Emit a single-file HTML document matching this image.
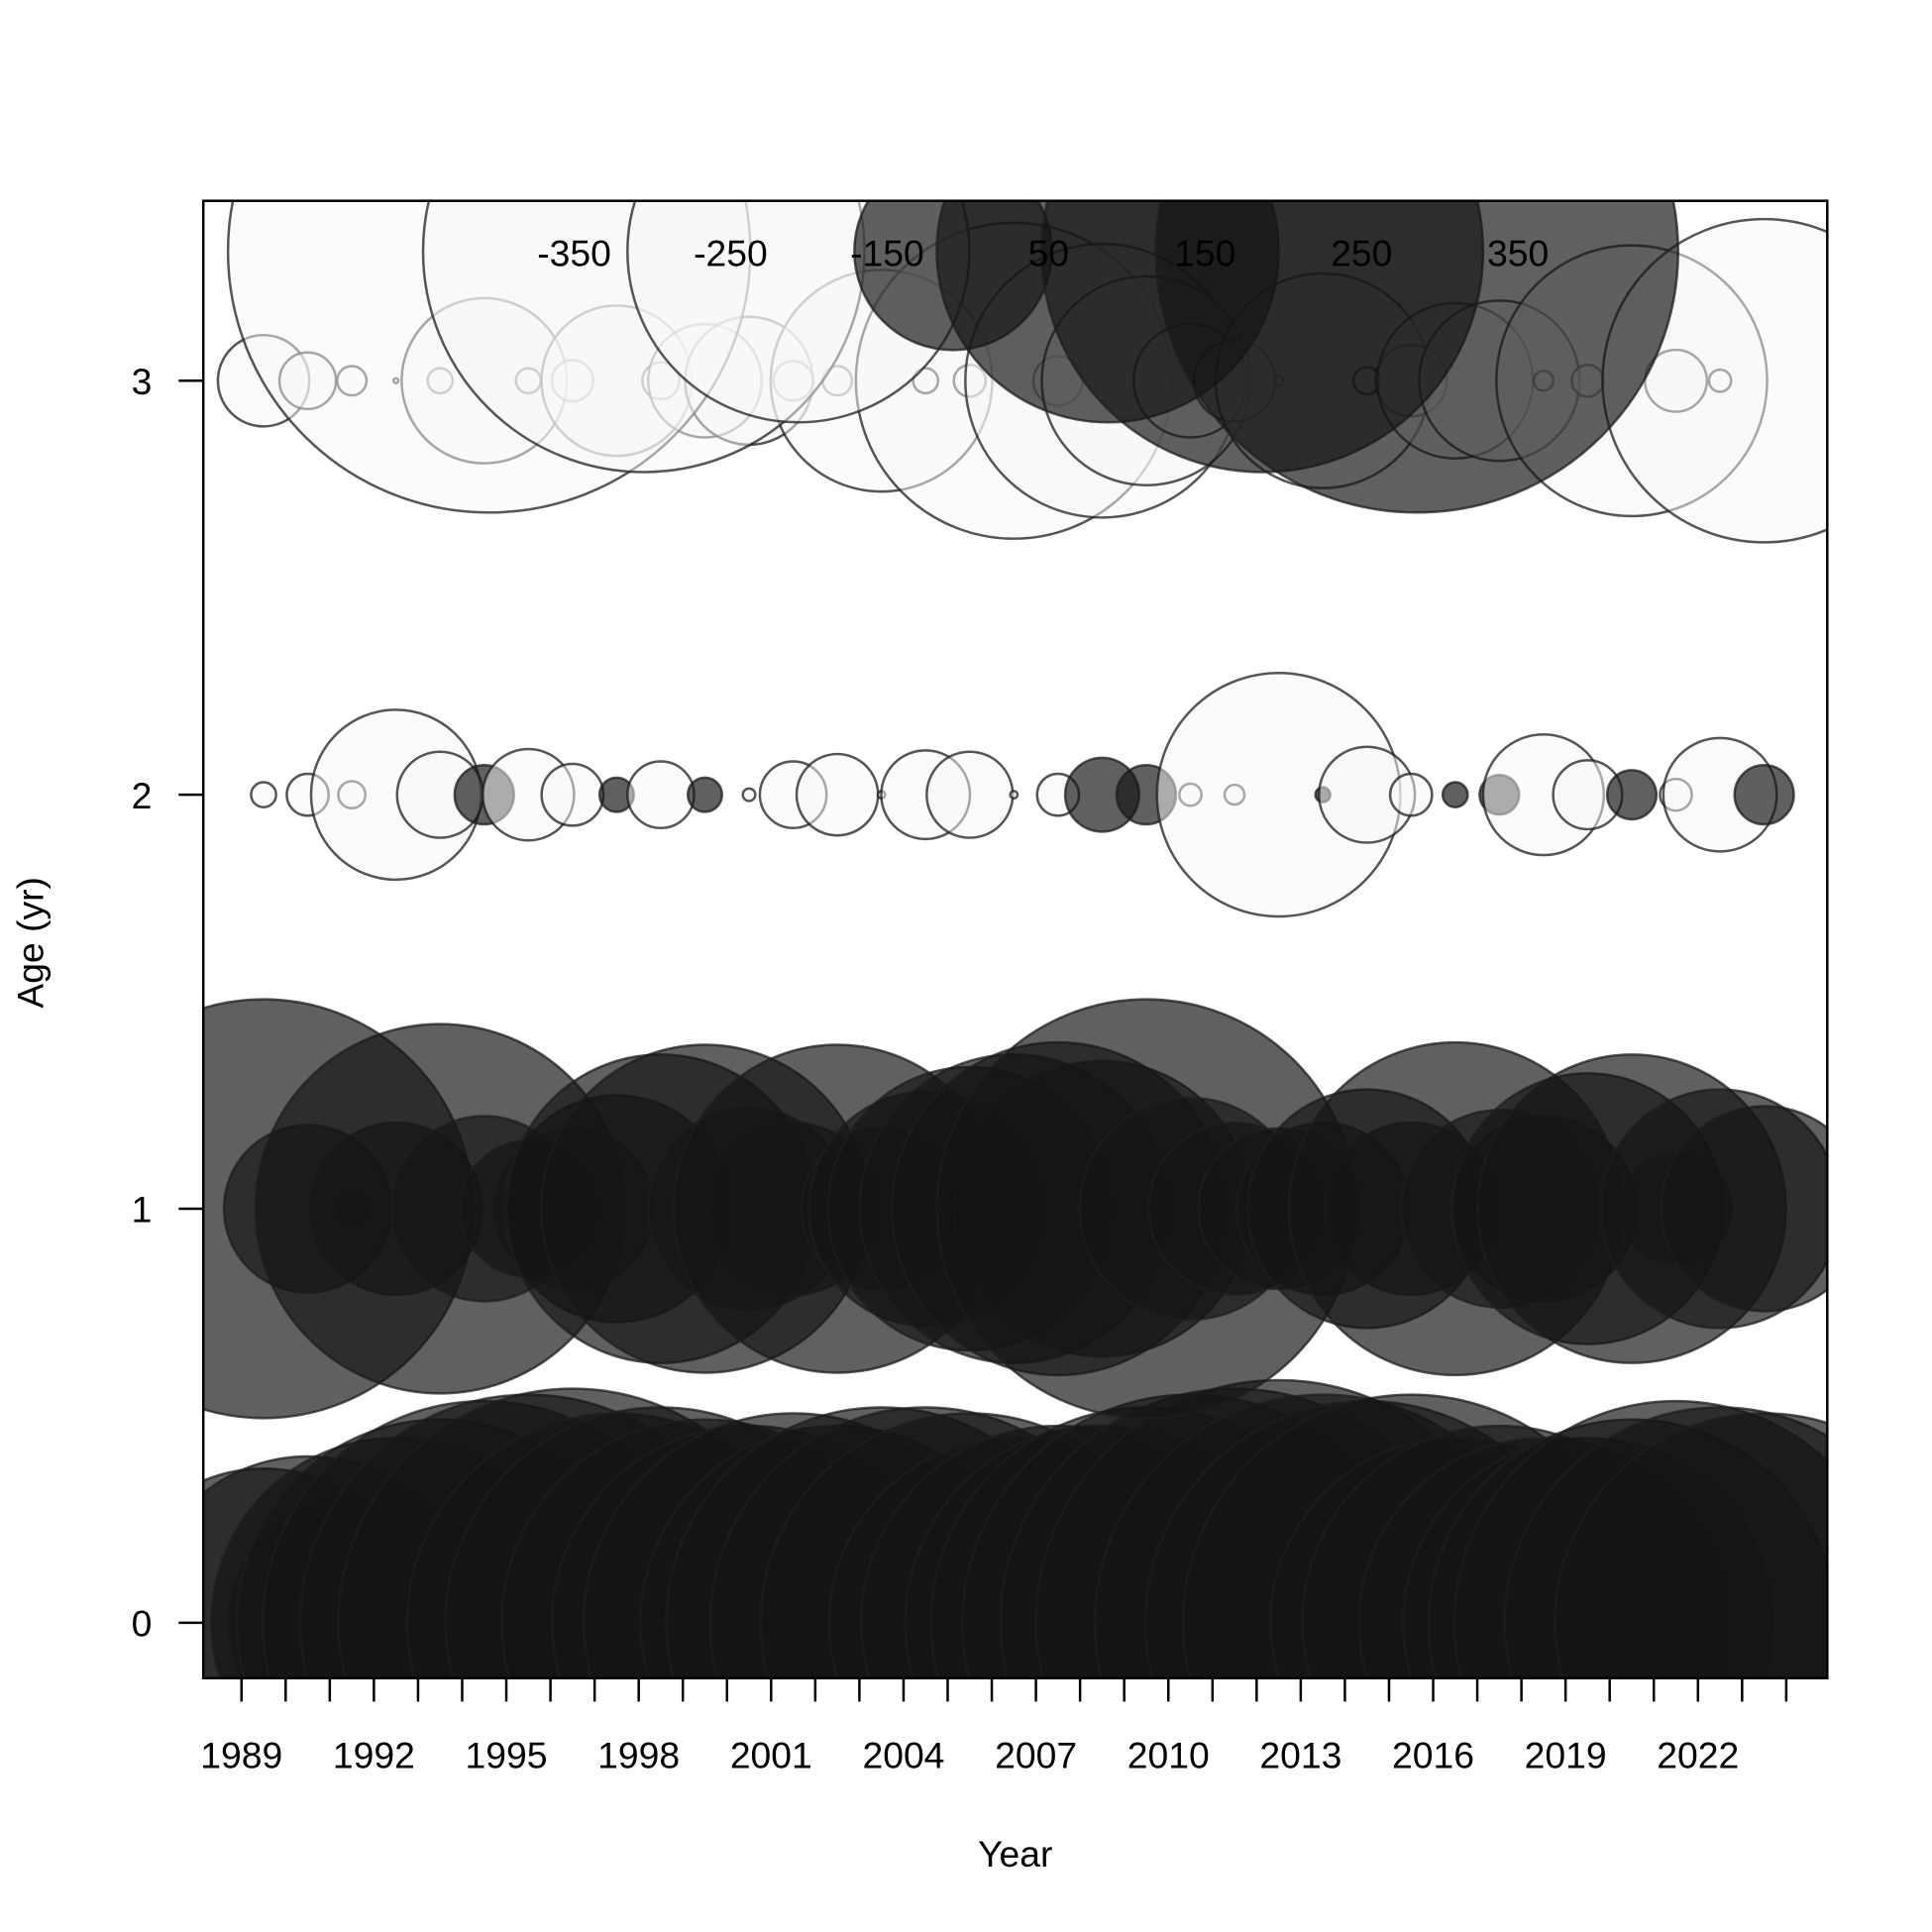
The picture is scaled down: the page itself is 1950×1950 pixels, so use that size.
<!DOCTYPE html>
<html><head><meta charset="utf-8"><style>
html,body{margin:0;padding:0;background:#fff}
svg{display:block;font-family:"Liberation Sans",sans-serif}
</style></head><body>
<svg id="chart" width="1950" height="1950" viewBox="0 0 1568 1568" xmlns="http://www.w3.org/2000/svg">
<defs><clipPath id="pc"><rect x="165" y="163" width="1318" height="1199"/></clipPath></defs>
<g id="bubbles" clip-path="url(#pc)"></g>
<g id="legendLabels"></g>
<rect x="165" y="163" width="1318" height="1199" fill="none" stroke="#000" stroke-width="2"/>
<g id="axes"></g>
<text x="824" y="1515" font-size="30" text-anchor="middle">Year</text>
<text x="0" y="0" font-size="30" text-anchor="middle" transform="translate(35,765) rotate(-90)">Age (yr)</text>
</svg>
<script>
const years = [];
for (let y = 1989; y <= 2023; y++) years.push(y);
const ages = [0, 1, 2, 3];
const age3 = [-10.7,-4.1,-1.1,-0.03,-0.8,-35,-0.8,-2.2,-29,-1.75,-16.5,-21,-2.0,-1.1,-63,-0.8,-1.3,-128,-3.1,-96,-56,-16.5,-8.5,-0.12,-59,-0.94,-6.5,-31,-33,-0.5,-1.3,-94,-4.9,-0.63,-134];
const age2 = [-0.8,-2.25,-0.94,-37,-9.5,4.5,-10.7,-4.9,1.5,-5.7,1.5,-0.2,-5.7,-8.5,-0.07,-10.1,-9.5,-0.07,-2.25,7,4.5,-0.63,-0.5,-76,0.28,-11.8,-2.25,0.8,2,-18.7,-6.1,3.1,-1.3,-16.5,4.5];
const age1 = [225,36,1.1,38,175,44,24,33,66,122,138,52,38,138,33,70,103,122,142,112,225,63,38,33,38,73,38,142,50,44,94,122,15.8,73,54];
const age0 = [122,142,78,175,212,252,267,281,225,238,212,199,225,199,238,238,225,175,199,199,238,267,281,302,267,252,267,175,199,175,175,212,252,238,225];
const legendValues = [-350,-250,-150,50,150,250,350];
const legendLabels = ["-350","-250","-150","50","150","250","350"];
const xTickYears = [];
for (let y = 1989; y <= 2024; y++) xTickYears.push(y);
const xLabelYears = [1989,1992,1995,1998,2001,2004,2007,2010,2013,2016,2019,2022];
const yTicks = [0,1,2,3];

const NS = "http://www.w3.org/2000/svg";
const xs = y => 196 + 35.82 * (y - 1989);
const ys = a => 1317 - 336 * a;
const rs = v => 11.33 * Math.sqrt(Math.abs(v));
function mk(tag, attrs, parent){const e=document.createElementNS(NS,tag);for(const k in attrs)e.setAttribute(k,attrs[k]);parent.appendChild(e);return e;}
const bub = document.getElementById('bubbles');
function circ(cx, cy, v, parent){
  return mk('circle',{cx:cx,cy:cy,r:rs(v),fill:v>0?'rgba(20,20,20,0.68)':'rgba(248,248,248,0.5)',stroke:'rgba(30,30,30,0.75)','stroke-width':2},parent);
}
const rows = [age0, age1, age2, age3];
rows.forEach((row, a) => {
  row.forEach((v, i) => {
    const c = circ(xs(years[i] + 0.5), ys(ages[a]), v, bub);
    
    
  });
});
legendValues.forEach((v,i)=>{
  const c = circ(397 + 125.5*i, 204, v, bub);
  
  
});
const lg = document.getElementById('legendLabels');
legendLabels.forEach((s,i)=>{
  const t = mk('text',{x:466+127*i+(i>=3?4:0),y:216,'font-size':30,'text-anchor':'middle'},lg);
  t.textContent = s;
  
  
});
const ax = document.getElementById('axes');
xTickYears.forEach(y=>{
  const l = mk('line',{x1:xs(y),x2:xs(y),y1:1362,y2:1381,stroke:'#000','stroke-width':2},ax);
  
  
});
xLabelYears.forEach(y=>{
  const t = mk('text',{x:xs(y),y:1435,'font-size':30,'text-anchor':'middle'},ax);
  t.textContent = y;
  
  
});
yTicks.forEach(a=>{
  const l = mk('line',{x1:145,x2:165,y1:ys(a),y2:ys(a),stroke:'#000','stroke-width':2},ax);
  
  
  const t = mk('text',{x:115,y:ys(a)+11,'font-size':30,'text-anchor':'middle'},ax);
  t.textContent = a;
  
  
});
</script>
</body></html>
